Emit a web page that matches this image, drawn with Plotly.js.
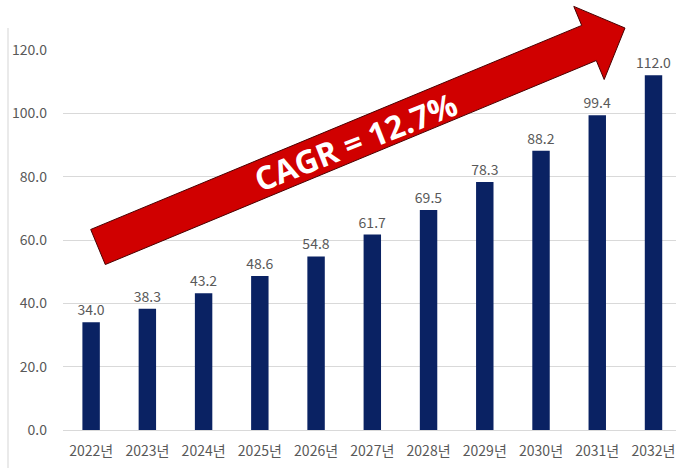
<!DOCTYPE html>
<html><head><meta charset="utf-8">
<script src="https://cdn.plot.ly/plotly-3.0.1.min.js"></script>
<style>html,body{margin:0;padding:0;background:#fff;}#chart{width:676px;height:468px;}</style>
</head><body><div id="chart"></div>
<script>
var years = ['2022년','2023년','2024년','2025년','2026년','2027년','2028년','2029년','2030년','2031년','2032년'];
var values = [34.0, 38.3, 43.2, 48.6, 54.8, 61.7, 69.5, 78.3, 88.2, 99.4, 112.0];
var yTicks = [0, 20, 40, 60, 80, 100, 120];
var yTickLabels = ['0.0','20.0','40.0','60.0','80.0','100.0','120.0'];
var cagrLabel = 'CAGR = 12.7%';

var W = 676, H = 468, ML = 63, MR = 0, MT = 50, MB = 38;
var PW = W - ML - MR, PH = H - MT - MB;
function px(x){ return (x - ML) / PW; }
function py(y){ return 1 - (y - MT) / PH; }

// arrow decoration geometry (pixels)
var T = [98, 247], P = [625, 28];
var dx = P[0]-T[0], dy = P[1]-T[1], L = Math.sqrt(dx*dx+dy*dy);
var u = [dx/L, dy/L], n = [-u[1], u[0]];
var shaftHalf = 19, headHalf = 39.6, headLen = 39;
function pt(a, b){ return [T[0] + a*u[0] + b*n[0], T[1] + a*u[1] + b*n[1]]; }
var pts = [pt(0,-shaftHalf), pt(L-headLen,-shaftHalf), pt(L-headLen,-headHalf), P, pt(L-headLen,headHalf), pt(L-headLen,shaftHalf), pt(0,shaftHalf)];
var path = pts.map(function(p,i){ return (i===0?'M':'L') + px(p[0]).toFixed(5) + ',' + py(p[1]).toFixed(5); }).join(' ') + ' Z';

var font = 'Noto Sans CJK KR, Open Sans, sans-serif';
var trace = {
  type: 'bar', x: years, y: values,
  marker: {color: '#0a2263'},
  text: values.map(function(v){ return v.toFixed(1); }),
  textposition: 'outside', cliponaxis: false, constraintext: 'none',
  textfont: {family: font, size: 14, color: '#595959'},
  hoverinfo: 'none'
};
var layout = {
  width: W, height: H,
  margin: {l: ML, r: MR, t: MT, b: MB},
  paper_bgcolor: '#fff', plot_bgcolor: '#fff',
  showlegend: false, bargap: 0.69,
  xaxis: {type: 'category', range: [-0.5, 10.4], showgrid: false, zeroline: false,
    showline: false, ticks: '', tickfont: {family: font, size: 14, color: '#595959'}, ticklabelstandoff: 11},
  yaxis: {range: [0, 120], tickvals: yTicks, ticktext: yTickLabels, showgrid: true,
    gridcolor: '#d9d9d9', gridwidth: 1, zeroline: true, zerolinecolor: '#d9d9d9', zerolinewidth: 1,
    showline: false, ticks: '', tickfont: {family: font, size: 14, color: '#595959'}, ticklabelstandoff: 15},
  shapes: [
    {type: 'path', xref: 'paper', yref: 'paper', path: path, fillcolor: '#d00000',
      line: {color: '#4a0000', width: 1}, layer: 'above'},
    {type: 'line', xref: 'paper', yref: 'paper', x0: px(8), x1: px(8), y0: py(28), y1: py(468),
      line: {color: '#e3e3e3', width: 1.5}}
  ],
  annotations: [
    {xref: 'paper', yref: 'paper', x: px(355), y: py(141), text: '<b>' + cagrLabel + '</b>',
      showarrow: false, textangle: -21.5, xanchor: 'center', yanchor: 'middle',
      font: {family: 'Open Sans, sans-serif', size: 32, color: '#ffffff'}}
  ]
};
Plotly.newPlot('chart', [trace], layout, {displayModeBar: false, staticPlot: true});
</script></body></html>
